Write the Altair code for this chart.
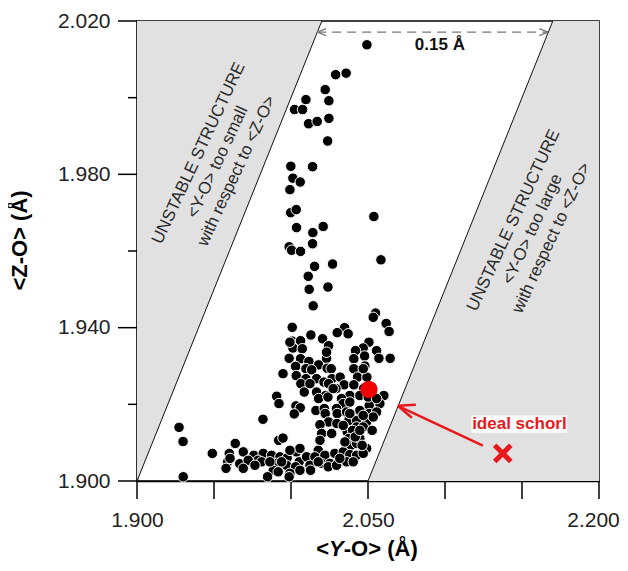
import altair as alt
import pandas as pd

# ---- data ----
yo = [2.0493, 2.0290, 2.0358, 2.0222, 2.0097, 2.0246, 2.0023, 2.0075, 2.0114, 2.0170,
      2.0246, 2.0238, 1.9999, 2.0140, 2.0012, 2.0060, 1.9993, 1.9998, 2.0034, 2.0538,
      2.0036, 2.0142, 2.0209, 1.9988, 2.0004, 2.0062, 2.0140, 2.0584, 2.0153, 2.0270,
      2.0112, 2.0118, 2.0240, 2.0144, 2.0549, 2.0534, 2.0618, 2.0637, 2.0008, 2.0129,
      2.0348, 2.0300, 2.0371, 2.0205, 2.0008, 2.0062, 2.0244, 2.0012, 2.0073, 2.0506,
      2.0469, 2.0419, 2.0556, 1.9988, 2.0062, 2.0116, 2.0231, 2.0408, 2.0478, 2.0571,
      2.0644, 2.0179, 2.0235, 2.0030, 2.0097, 2.0134, 2.0261, 2.0408, 2.0480, 1.9948,
      2.0034, 2.0166, 2.0097, 2.0266, 2.0319, 2.0432, 2.0493, 2.0214, 2.0064, 2.0244,
      2.0345, 2.0408, 2.0471, 2.0166, 2.0292, 2.0086, 2.0225, 2.0382, 2.0603, 1.9907,
      2.0179, 2.0240, 2.0328, 1.9922, 2.0339, 2.0382, 2.0508, 2.0577, 2.0032, 2.0060,
      2.0162, 2.0216, 2.0296, 2.0222, 2.0300, 2.0361, 2.0447, 2.0508, 2.0556, 2.0021,
      1.9818, 2.0244, 2.0298, 2.0376, 2.0426, 2.0491, 2.0534, 2.0188, 2.0426, 2.0469,
      2.0199, 2.0264, 2.0365, 2.0400, 2.0527, 2.0188, 2.0376, 1.9273, 1.9299, 1.9920,
      1.9948, 2.0177, 2.0389, 2.0426, 2.0491, 1.9638, 1.9489, 1.9599, 1.9690, 1.9589,
      1.9578, 1.9667, 1.9759, 1.9820, 1.9874, 1.9787, 1.9722, 1.9928, 1.9975, 2.0036,
      2.0053, 2.0101, 2.0155, 2.0220, 2.0285, 2.0339, 2.0382, 2.0426, 2.0469, 1.9907,
      1.9971, 2.0030, 2.0123, 2.0199, 2.0253, 2.0306, 2.0361, 1.9885, 1.9917, 1.9993,
      2.0127, 2.0242, 2.0296, 1.9300, 1.9848, 1.9988, 2.0058, 1.9993, 2.0350, 2.0447,
      2.0177, 2.0058, 1.9809, 1.9604, 1.9690, 1.9766, 1.9863, 1.9939, 2.0317, 2.0404,
      2.0462, 2.0417, 1.9993, 2.0231, 2.0469, 2.0447, 2.0501, 2.0556, 2.0469, 2.0339,
      2.0274, 2.0123, 2.0382, 2.0447]
zo = [2.0138, 2.0060, 2.0064, 2.0021, 1.9995, 1.9992, 1.9969, 1.9969, 1.9932, 1.9938,
      1.9946, 1.9887, 1.9821, 1.9820, 1.9790, 1.9780, 1.9760, 1.9700, 1.9708, 1.9690,
      1.9661, 1.9648, 1.9664, 1.9611, 1.9602, 1.9599, 1.9619, 1.9577, 1.9560, 1.9566,
      1.9534, 1.9500, 1.9506, 1.9457, 1.9438, 1.9427, 1.9411, 1.9390, 1.9401, 1.9381,
      1.9400, 1.9387, 1.9384, 1.9371, 1.9365, 1.9366, 1.9353, 1.9347, 1.9345, 1.9362,
      1.9347, 1.9340, 1.9340, 1.9320, 1.9319, 1.9312, 1.9320, 1.9319, 1.9326, 1.9320,
      1.9320, 1.9303, 1.9294, 1.9299, 1.9293, 1.9290, 1.9293, 1.9293, 1.9300, 1.9280,
      1.9275, 1.9267, 1.9267, 1.9267, 1.9271, 1.9271, 1.9271, 1.9258, 1.9254, 1.9254,
      1.9251, 1.9251, 1.9241, 1.9232, 1.9241, 1.9232, 1.9223, 1.9223, 1.9223, 1.9221,
      1.9215, 1.9219, 1.9215, 1.9202, 1.9202, 1.9206, 1.9197, 1.9202, 1.9196, 1.9191,
      1.9184, 1.9189, 1.9189, 1.9176, 1.9176, 1.9180, 1.9184, 1.9176, 1.9180, 1.9175,
      1.9161, 1.9154, 1.9150, 1.9158, 1.9158, 1.9154, 1.9167, 1.9147, 1.9141, 1.9141,
      1.9124, 1.9124, 1.9128, 1.9132, 1.9132, 1.9106, 1.9111, 1.9140, 1.9103, 1.9106,
      1.9112, 1.9080, 1.9093, 1.9098, 1.9085, 1.9098, 1.9072, 1.9072, 1.9076, 1.9050,
      1.9033, 1.9045, 1.9067, 1.9072, 1.9067, 1.9054, 1.9054, 1.9063, 1.9060, 1.9076,
      1.9050, 1.9063, 1.9063, 1.9067, 1.9072, 1.9076, 1.9069, 1.9067, 1.9072, 1.9046,
      1.9041, 1.9037, 1.9041, 1.9046, 1.9046, 1.9046, 1.9050, 1.9028, 1.9024, 1.9020,
      1.9028, 1.9037, 1.9041, 1.9011, 1.9011, 1.9011, 1.9085, 1.9080, 1.9102, 1.9111,
      1.9050, 1.9028, 1.9050, 1.9059, 1.9033, 1.9041, 1.9050, 1.9050, 1.9059, 1.9050,
      1.9093, 1.9115, 1.9362, 1.9336, 1.9293, 1.9223, 1.9219, 1.9215, 1.9171, 1.9145,
      1.9241, 1.9254, 1.9176, 1.9132]

ideal_yo = [2.0506]
ideal_zo = [1.9239]
schorl_mark_x = [2.1375]
schorl_mark_y = [1.9072]

# axis ticks
x_ticks = [1.90, 1.95, 2.00, 2.05, 2.10, 2.15, 2.20]
y_major = [1.90, 1.94, 1.98, 2.02]
y_minor = [1.92, 1.96, 2.00]

# x-axis title pieces (the Y is italic)
xtitle_parts = ["<", "Y", "-O> (Å)"]
xtitle_style = ["normal", "italic", "normal"]

# unstable-structure regions (bounded by <Z-O> = <Y-O> and <Z-O> = <Y-O> - 0.15)
left_x = [1.900, 2.020]
left_lo = [1.900, 2.020]
left_hi = [2.020, 2.020]
right_x = [2.050, 2.170, 2.200]
right_lo = [1.900, 1.900, 1.900]
right_hi = [1.900, 2.020, 2.020]
bound_x1 = [1.900, 2.050]
bound_y1 = [1.900, 1.900]
bound_x2 = [2.020, 2.170]
bound_y2 = [2.020, 2.020]

# dashed 0.15 A arrow
dash_x1 = [2.0170, 2.0170, 2.0170, 2.1670, 2.1670]
dash_y1 = [2.0171, 2.0171, 2.0171, 2.0171, 2.0171]
dash_x2 = [2.1670, 2.0228, 2.0228, 2.1612, 2.1612]
dash_y2 = [2.0171, 2.0180, 2.0162, 2.0180, 2.0162]

# red arrow to ideal schorl
red_x1 = [2.1246, 2.0694, 2.0694]
red_y1 = [1.9092, 1.9196, 1.9196]
red_x2 = [2.0694, 2.0811, 2.0785]
red_y2 = [1.9196, 1.9199, 1.9165]

label_box_x = [2.1172]
label_box_x2 = [2.1793]
label_box_y = [1.9171]
label_box_y2 = [1.9126]

notes_text = ["UNSTABLE STRUCTURE\n<Y-O> too small\nwith respect to <Z-O>",
              "UNSTABLE STRUCTURE\n<Y-O> too large\nwith respect to <Z-O>"]
notes_x = [1.9400, 2.1445]
notes_y = [1.9855, 1.9680]

FONT = "Liberation Sans"
RED = "#e8191c"

xs = alt.Scale(domain=[1.9, 2.2], nice=False, zero=False)
ys = alt.Scale(domain=[1.9, 2.02], nice=False, zero=False)

xaxis = alt.Axis(
    values=x_ticks,
    labelExpr="round((datum.value-1.9)/0.05) % 3 == 0 ? format(datum.value, '.3f') : ''",
    labelOffset={"condition": {"test": "datum.value > 2.19", "value": -6}, "value": 0},
    ticks=False, domainColor="black", domainWidth=1.5,
    labelFont=FONT, labelFontSize=21, labelColor="#222", labelPadding=28,
    grid=False, labelFlush=False,
)
yaxis = alt.Axis(
    values=y_major + y_minor,
    labelExpr="round((datum.value-1.9)/0.02) % 2 == 0 ? format(datum.value, '.3f') : ''",
    ticks=False, domainColor="black", domainWidth=1.5,
    labelFont=FONT, labelFontSize=21, labelColor="#222", labelPadding=27,
    titleFont=FONT, titleFontSize=22, titleFontWeight="bold", titleColor="black",
    titlePadding=26, titleY=219, grid=False, labelFlush=False,
)
YT = "<Z-O> (Å)"


def X(f):
    return alt.X(f, type="quantitative", scale=xs, axis=xaxis, title=None)


def Y(f):
    return alt.Y(f, type="quantitative", scale=ys, axis=yaxis, title=YT)


left_df = pd.DataFrame({"x": left_x, "y": left_lo, "y2": left_hi})
right_df = pd.DataFrame({"x": right_x, "y": right_lo, "y2": right_hi})
bound_df = pd.DataFrame({"x": bound_x1, "y": bound_y1, "x2": bound_x2, "y2": bound_y2})
pts_df = pd.DataFrame({"x": yo, "y": zo})
ideal_df = pd.DataFrame({"x": ideal_yo, "y": ideal_zo})
cross_df = pd.DataFrame({"x": schorl_mark_x, "y": schorl_mark_y})
dash_df = pd.DataFrame({"x": dash_x1, "y": dash_y1, "x2": dash_x2, "y2": dash_y2,
                        "part": ["shaft", "head", "head", "head", "head"]})
red_df = pd.DataFrame({"x": red_x1, "y": red_y1, "x2": red_x2, "y2": red_y2})
box_df = pd.DataFrame({"x": label_box_x, "x2": label_box_x2, "y": label_box_y, "y2": label_box_y2})
notes_df = pd.DataFrame({"x": notes_x, "y": notes_y, "t": notes_text})
lab_df = pd.DataFrame({"x": [2.1483], "y": [1.9148], "t": ["ideal schorl"]})
d015_df = pd.DataFrame({"x": [2.0967], "y": [2.0138], "t": ["0.15 Å"]})
xt_df = pd.DataFrame({"x": x_ticks})
ymaj_df = pd.DataFrame({"y": y_major})
ymin_df = pd.DataFrame({"y": y_minor})

GRAY = "#e1e1e1"

left_area = alt.Chart(left_df).mark_area(color=GRAY, opacity=1).encode(x=X("x"), y=Y("y"), y2="y2")
right_area = alt.Chart(right_df).mark_area(color=GRAY, opacity=1).encode(x=X("x"), y=Y("y"), y2="y2")
bounds = alt.Chart(bound_df).mark_rule(color="#111", strokeWidth=1).encode(
    x=X("x"), y=Y("y"), x2="x2", y2="y2")

# outward tick marks
xtick = alt.Chart(xt_df).mark_rule(color="black", strokeWidth=1.5).encode(
    x=X("x"), y=alt.value(460), y2=alt.value(478))
ytick_major = alt.Chart(ymaj_df).mark_rule(color="black", strokeWidth=1.5).encode(
    y=Y("y"), x=alt.value(-19), x2=alt.value(0))
ytick_minor = alt.Chart(ymin_df).mark_rule(color="black", strokeWidth=1.5).encode(
    y=Y("y"), x=alt.value(-9), x2=alt.value(0))

# x-axis title with italic Y, centred under the plot
TS = 22
w_lt = 0.584 * TS
w_y = 0.667 * TS
w_rest = 3.361 * TS
x0 = 230 - (w_lt + w_y + w_rest) / 2
title_pos = [x0, x0 + w_lt, x0 + w_lt + w_y]
xtitle_layers = []
for part, style, px in zip(xtitle_parts, xtitle_style, title_pos):
    xtitle_layers.append(
        alt.Chart(pd.DataFrame({"t": [part]})).mark_text(
            font=FONT, fontSize=TS, fontWeight="bold", fontStyle=style, color="black",
            align="left", baseline="alphabetic",
        ).encode(x=alt.value(px), y=alt.value(535), text="t:N")
    )

notes = alt.Chart(notes_df).mark_text(
    font=FONT, fontSize=17, color="#2a2a2a", angle=295, align="center", baseline="middle",
    lineBreak="\n", lineHeight=21,
).encode(x=X("x"), y=Y("y"), text="t:N")

dash_shaft = alt.Chart(dash_df[dash_df.part == "shaft"]).mark_rule(
    color="#777", strokeWidth=1.2, strokeDash=[9, 6]).encode(x=X("x"), y=Y("y"), x2="x2", y2="y2")
dash_heads = alt.Chart(dash_df[dash_df.part == "head"]).mark_rule(
    color="#777", strokeWidth=1.2).encode(x=X("x"), y=Y("y"), x2="x2", y2="y2")
d015 = alt.Chart(d015_df).mark_text(
    font=FONT, fontSize=17, fontWeight="bold", color="#111", align="center", baseline="middle"
).encode(x=X("x"), y=Y("y"), text="t:N")

points = alt.Chart(pts_df).mark_circle(
    size=110, color="black", opacity=1, stroke="white", strokeWidth=1
).encode(x=X("x"), y=Y("y"))
ideal = alt.Chart(ideal_df).mark_circle(size=300, color="#f00000", opacity=1).encode(x=X("x"), y=Y("y"))

red_arrow = alt.Chart(red_df).mark_rule(color=RED, strokeWidth=2.5).encode(
    x=X("x"), y=Y("y"), x2="x2", y2="y2")
box = alt.Chart(box_df).mark_rect(color="white", opacity=1).encode(x=X("x"), x2="x2", y=Y("y"), y2="y2")
lab = alt.Chart(lab_df).mark_text(
    font=FONT, fontSize=17, fontWeight="bold", color=RED, align="center", baseline="middle"
).encode(x=X("x"), y=Y("y"), text="t:N")
cross = alt.Chart(cross_df).mark_point(
    shape="M-1,-1L1,1M-1,1L1,-1", size=260, filled=False, stroke=RED, strokeWidth=5, opacity=1
).encode(x=X("x"), y=Y("y"))

chart = alt.layer(
    left_area, right_area, bounds, xtick, ytick_major, ytick_minor, notes, dash_shaft,
    dash_heads, d015, points, ideal, red_arrow, box, lab, cross, *xtitle_layers,
).properties(
    width=462, height=460,
    autosize="none",
    padding={"left": 129, "top": 13, "right": 21, "bottom": 82},
).configure_view(stroke="black", strokeWidth=1.5)

chart.save("out.html", embed_options={"renderer": "svg", "actions": False})
